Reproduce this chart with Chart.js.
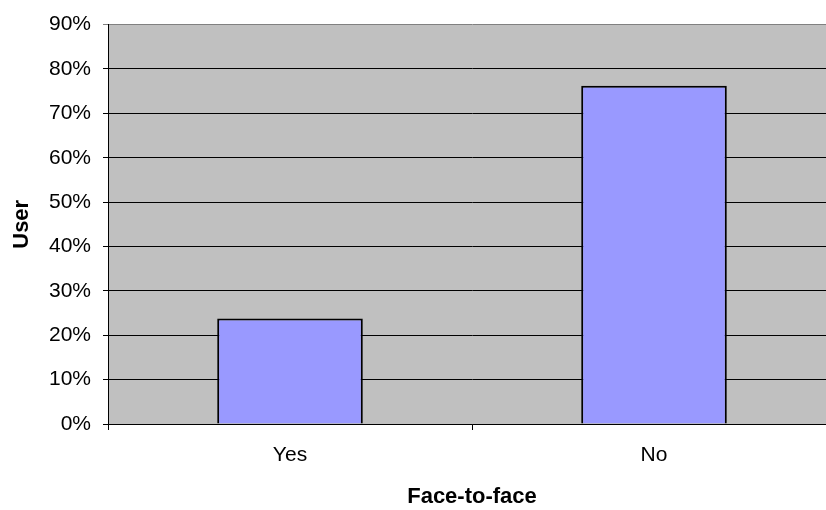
<!DOCTYPE html>
<html>
<head>
<meta charset="utf-8">
<script src="https://cdn.jsdelivr.net/npm/chart.js@4.4.0/dist/chart.umd.min.js"></script>
<style>
    html, body { margin: 0; padding: 0; background: #fff; overflow: hidden; }
    #wrap { width: 840px; height: 510px; }
</style>
</head>
<body>
<div id="wrap"><canvas id="chart" width="840" height="510"></canvas></div>
<script>
// chart data
const categories = ['Yes', 'No'];
const userShare = [23.8, 76.2];   // percent of users
const yTicks = [0, 10, 20, 30, 40, 50, 60, 70, 80, 90];

const FONT = 'Liberation Sans, Arial, sans-serif';

// grey plot area like the Excel original
const plotBackground = {
    id: 'plotBackground',
    beforeDraw(chart) {
        const { ctx, chartArea: a } = chart;
        ctx.save();
        ctx.fillStyle = '#c0c0c0';
        ctx.fillRect(a.left, a.top, a.right - a.left, a.bottom - a.top);
        ctx.restore();
    }
};

new Chart(document.getElementById('chart'), {
    type: 'bar',
    data: {
        labels: categories,
        datasets: [{
            data: userShare,
            backgroundColor: '#9999ff',
            borderColor: '#000000',
            borderWidth: 2,
            barPercentage: 0.4,
            categoryPercentage: 1
        }]
    },
    options: {
        responsive: false,
        animation: false,
        layout: { padding: { top: 22, right: 4, left: 0, bottom: 0 } },
        plugins: {
            legend: { display: false },
            tooltip: { enabled: false }
        },
        scales: {
            x: {
                offset: true,
                grid: {
                    offset: true,
                    drawOnChartArea: false,
                    drawTicks: true,
                    tickLength: 6,
                    color: '#000'
                },
                border: { color: '#000', width: 1 },
                ticks: {
                    color: '#000',
                    padding: 13,
                    font: { family: FONT, size: 21 }
                },
                title: {
                    display: true,
                    text: 'Face-to-face',
                    color: '#000',
                    font: { family: FONT, size: 22, weight: 'bold' },
                    padding: { top: 0, bottom: 0 }
                },
                afterFit(scale) { scale.height = 86; }
            },
            y: {
                min: 0,
                max: 90,
                afterBuildTicks(scale) { scale.ticks = yTicks.map(v => ({ value: v })); },
                grid: {
                    color: ctx => (ctx.tick && ctx.tick.value === 90) ? '#808080' : '#000',
                    lineWidth: 1,
                    tickLength: 5
                },
                border: { color: '#000', width: 1 },
                ticks: {
                    color: '#000',
                    padding: 12,
                    font: { family: FONT, size: 21 },
                    callback: v => v + '%'
                },
                title: {
                    display: true,
                    text: 'User',
                    color: '#000',
                    font: { family: FONT, size: 22, weight: 'bold' },
                    padding: { top: 9, bottom: 0 }
                },
                afterFit(scale) { scale.width = 108; }
            }
        }
    },
    plugins: [plotBackground]
});
</script>
</body>
</html>
